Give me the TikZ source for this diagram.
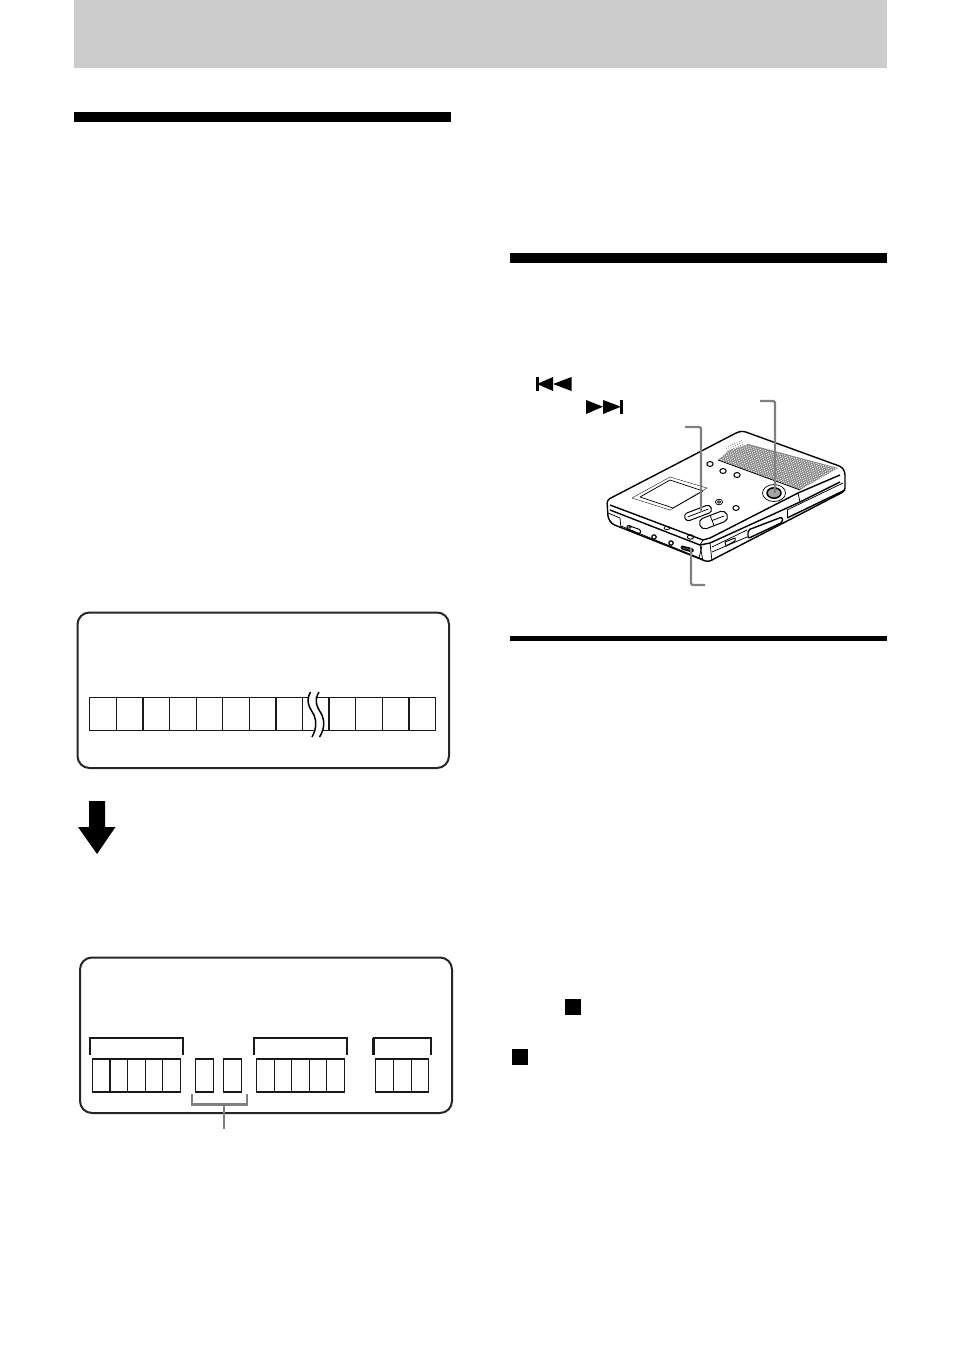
\documentclass[tikz,border=0pt]{standalone}
\usetikzlibrary{calc}
\definecolor{hdr}{HTML}{CCCCCC}
\definecolor{leader}{HTML}{808080}
\tikzset{
  dispbox/.style={draw=black!85,line width=2pt,rounded corners=12pt},
  cellrow/.style={draw=black!90,line width=0.8pt},
  cellthick/.style={draw=black!90,line width=1.2pt},
  brk/.style={draw=black!90,line width=1.4pt},
  brkthick/.style={line width=2.1pt,draw=black!90},
  leaderline/.style={draw=leader,line width=2.2pt,rounded corners=1.5pt},
  dev/.style={draw=black,line width=0.75pt,line join=round},
  devheavy/.style={draw=black,line width=1.4pt,line join=round},
}
\begin{document}
\begin{tikzpicture}[x=1pt,y=-1pt]
\useasboundingbox (0,0) rectangle (954,1357);
\fill[white] (0,0) rectangle (954,1357);
% bars
\fill[hdr] (74,0) rectangle (887,68);
\fill[black] (74,112) rectangle (451,122);
\fill[black] (510,253) rectangle (887,263);
\fill[black] (510,636) rectangle (887,641);
% first display
\draw[dispbox] (77.5,612.5) rectangle (449,768);
\draw[cellthick] (89.3,697.7) rectangle (435.7,730.2);
\foreach \xx in {116.7,143,169.7,196.3,222.7,249.3,276,302.7,329,355.7,382.3,409} {
  \draw[cellrow] (\xx,697.7) -- (\xx,730.2);
}
\foreach \xx in {143,276,329,409} {\draw[cellthick] (\xx,697.7) -- (\xx,730.2);}
% break mark
\fill[white] (310.5,692) .. controls (305,702) and (310,708) .. (314,715) .. controls (317,722) and (316,730) .. (312,737)
  -- (319,737) .. controls (323,730) and (324,722) .. (321,715) .. controls (317,708) and (312,702) .. (317.5,692) -- cycle;
\draw[black,line width=1.5pt] (310.5,692) .. controls (305,702) and (310,708) .. (314,715) .. controls (317,722) and (316,730) .. (312,737);
\draw[black,line width=1.5pt] (319,692) .. controls (313,702) and (318,708) .. (322,715) .. controls (325,722) and (324,730) .. (319.5,737);
% down arrow
\fill[black] (89,801) -- (105,801) -- (105,827) -- (115.5,827) -- (97,854) -- (78,827) -- (89,827) -- cycle;
% second display
\draw[dispbox] (80,957.5) rectangle (452,1113);
\draw[cellthick] (92.3,1059) rectangle (180.7,1092);
\foreach \xx in {110,127.7,145.7,162.7} {\draw[cellrow] (\xx,1059) -- (\xx,1092);}
\draw[cellthick] (110,1059) -- (110,1092);
\draw[cellthick] (195.3,1059) rectangle (213.7,1092);
\draw[cellthick] (223.7,1059) rectangle (241.7,1092);
\draw[cellthick] (256.3,1059) rectangle (344.7,1092);
\foreach \xx in {274,291.7,309,326.7} {\draw[cellrow] (\xx,1059) -- (\xx,1092);}
\draw[cellthick] (375.7,1059) rectangle (428.7,1092);
\foreach \xx in {393.7,411} {\draw[cellrow] (\xx,1059) -- (\xx,1092);}
\draw[brk] (90,1055) -- (90,1038) -- (183,1038) -- (183,1055);
\draw[brkthick] (183,1038) -- (183,1055);
\draw[brk] (254,1055) -- (254,1038) -- (347,1038) -- (347,1055);
\draw[brkthick] (347,1038) -- (347,1055);
\draw[brk] (373.5,1055) -- (373.5,1038) -- (431,1038) -- (431,1055);
\draw[brkthick] (373.5,1038) -- (373.5,1055);
% gray bracket
\draw[draw=leader,line width=2.2pt] (192,1094) -- (192,1104.5) -- (247,1104.5) -- (247,1094);
\draw[draw=leader,line width=2.2pt] (224,1104.5) -- (224,1129);
% small squares
\fill[black] (565,999) rectangle (581,1015);
\fill[black] (512,1049) rectangle (528,1065);
% skip icons
\fill[black] (535.5,377) rectangle (538.5,391);
\fill[black] (537,384) -- (553,377) -- (553,391) -- cycle;
\fill[black] (553,384) -- (571.5,377) -- (571.5,391) -- cycle;
\fill[black] (586,400) -- (603,406.7) -- (586,414) -- cycle;
\fill[black] (603,400) -- (621,406.7) -- (603,414) -- cycle;
\fill[black] (619.5,400) rectangle (622.5,414);
% ---- device ----
\fill[white,rounded corners=3pt] (607,500) -- (738,432) -- (743,431) -- (842,467) -- (845,472) -- (845,491) -- (708,562) -- (612,524) -- (608,518) -- cycle;
% speaker grille
\begin{scope}
  \clip (718,460) -- (728,451) -- (748,444) -- (838,468) -- (800,490) -- cycle;
  \fill[black!48] (700,430) rectangle (850,500);
  \foreach \i in {0,...,54} {
    \foreach \j in {0,...,22} {
      \fill[white] ({712+\i*2.42+\j*0.62},{437+\i*0.62+\j*2.0}) circle (0.68pt);
    }
  }
\end{scope}
% small patch of grille dots near the top corner
\foreach \i in {0,...,7} {\foreach \j in {0,...,2} {
  \fill[black!70] ({726+\i*2.2+\j*0.6},{447-\i*0.9+\j*2}) circle (0.45pt);
}}
% body outline
\draw[devheavy,rounded corners=3pt] (607,500) -- (738,432) -- (743,431) -- (842,467) -- (845,472) -- (845,491) -- (708,562) -- (612,524) -- (608,518) -- cycle;
\draw[dev] (718,460) -- (800,490);
% top face edges
\draw[devheavy] (610,505) -- (703,540) -- (710,538) -- (798,493) -- (840,475);
\draw[devheavy] (610,510) -- (700,545) -- (710,543) -- (800,502) -- (840,482);
\draw[dev] (703,540) -- (700,545);
\draw[dev] (798,493) -- (800,502);
\draw[dev] (700,545) -- (703,561);
\draw[dev] (710,543) -- (712,561);
\draw[dev] (712,547) -- (747,530);
\draw[dev] (712,552) -- (747,537);
\draw[dev] (787,510) -- (787,518);
\draw[dev] (787,510) -- (843,483);
\draw[devheavy] (787,518) -- (845,490);
% left end of the front
\draw[dev] (608,513) -- (620,518) -- (621,528);
\draw[dev] (609,519) -- (612,524);
\draw[dev] (621,526) -- (702,559);
\draw[dev] (702,546) -- (699,558);
% LCD
\draw[black,line width=0.35pt] (632,498) -- (670,477) -- (707,488) -- (670,510) -- cycle;
\draw[dev] (640,497) -- (670,480) -- (703,491) -- (673,508) -- cycle;
% top buttons
\foreach \bx/\by in {710/464,723/471,737/475,736/508} {
  \draw[devheavy,line width=1pt,fill=white] (\bx,\by) ellipse (3.2pt and 2.5pt);
}
\draw[dev,fill=white] (719,502) ellipse (3.6pt and 2.8pt);
\draw[dev] (719,502) ellipse (1.8pt and 1.3pt);
% long buttons
\draw[devheavy,line width=1pt,fill=white,rounded corners=3.5pt,rotate around={21:(698,513)}] (684,509) rectangle (712,517);
\draw[dev,rotate around={21:(698,513)}] (687,513) -- (709,513);
\draw[devheavy,line width=1pt,fill=white,rounded corners=5pt,rotate around={21:(713.5,520)}] (699,514.5) rectangle (728,525.5);
\draw[dev,rotate around={21:(713.5,520)}] (712,514.5) -- (712,525.5);
\draw[dev,rotate around={21:(713.5,520)}] (712,520) -- (725,520);
% dial
\draw[dev,fill=white] (774,493) ellipse (11.5pt and 8.5pt);
\draw[devheavy,line width=1.5pt,fill=black!35] (774,493) ellipse (7pt and 5.2pt);
% front details
\draw[devheavy,line width=1pt,rounded corners=1.5pt] (627,525) -- (641,530) -- (640,534) -- (627,529) -- cycle;
\draw[dev] (630,527) circle (1.4pt);
\draw[dev,line width=1.2pt] (654,537) circle (2.2pt);
\draw[dev,line width=1.2pt] (671,543) circle (2.2pt);
\draw[dev] (667,528) ellipse (3pt and 1.6pt);
\draw[dev,line width=1pt] (690.5,537) ellipse (3.2pt and 2.2pt);
\draw[devheavy,rounded corners=1pt,fill=black!70] (681,546) -- (693,549) -- (693,552) -- (682,549) -- cycle;
% side details
\draw[devheavy,rounded corners=2pt] (748,530) -- (782,517) -- (783,522) -- (748,538.5) -- cycle;
\draw[dev,line width=1pt] (725,542) -- (735,538) -- (735,541) -- (726,546) -- cycle;
% leaders
\draw[leaderline] (760,401) -- (775,401) -- (775,493);
\draw[leaderline] (685,427) -- (701,427) -- (701,512);
\draw[leaderline] (705,585) -- (691,585) -- (691,548);
\end{tikzpicture}
\end{document}
